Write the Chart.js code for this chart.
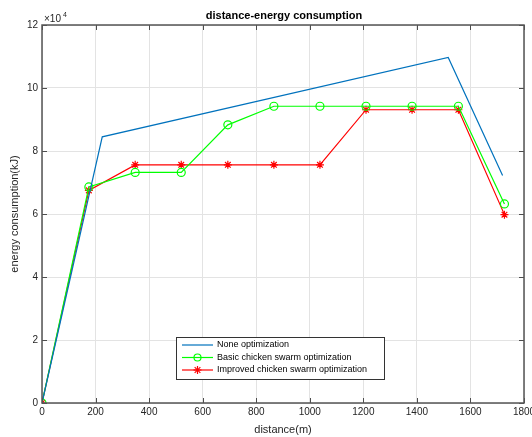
<!DOCTYPE html>
<html lang="en">
<head>
    <meta charset="UTF-8">
    <title>distance-energy consumption</title>
    <script src="https://cdn.jsdelivr.net/npm/chart.js"></script>
    <style>
        html, body { margin: 0; padding: 0; background: #fff; }
        #chartBox { width: 532px; height: 437px; }
    </style>
</head>
<body>
    <div id="chartBox"><canvas id="energyChart" width="532" height="437"></canvas></div>

    <script>
        // data (distance in m, energy in kJ)
        const noneX = [0, 225, 1517, 1720];
        const noneY = [0, 84500, 109700, 72200];

        const distances = [0, 175, 348, 520, 694, 866, 1038, 1210, 1382, 1555, 1727];
        const basicY = [0, 68600, 73200, 73200, 88300, 94200, 94200, 94200, 94200, 94200, 63200];
        const improvedY = [0, 67500, 75600, 75600, 75600, 75600, 75600, 93100, 93100, 93100, 59800];

        const seriesNames = ['None optimization', 'Basic chicken swarm optimization', 'Improved chicken swarm optimization'];
        const xTicks = [0, 200, 400, 600, 800, 1000, 1200, 1400, 1600, 1800];
        const yTicks = [0, 20000, 40000, 60000, 80000, 100000, 120000];

        function toPoints(xs, ys) {
            return xs.map((x, i) => ({ x: x, y: ys[i] }));
        }

        const font = 'Liberation Sans, Arial, sans-serif';

        // MATLAB-ish box, inward ticks, title, exponent and legend
        const matlabFrame = {
            id: 'matlabFrame',
            afterDraw(chart) {
                const ctx = chart.ctx;
                const a = chart.chartArea;
                const xs = chart.scales.x, ys = chart.scales.y;
                ctx.save();
                ctx.strokeStyle = '#4d4d4d';
                ctx.lineWidth = 1;
                xTicks.forEach(v => {
                    const px = Math.round(xs.getPixelForValue(v)) + 0.5;
                    ctx.beginPath();
                    ctx.moveTo(px, a.bottom); ctx.lineTo(px, a.bottom - 5);
                    ctx.moveTo(px, a.top); ctx.lineTo(px, a.top + 5);
                    ctx.stroke();
                });
                yTicks.forEach(v => {
                    const py = Math.round(ys.getPixelForValue(v)) + 0.5;
                    ctx.beginPath();
                    ctx.moveTo(a.left, py); ctx.lineTo(a.left + 5, py);
                    ctx.moveTo(a.right, py); ctx.lineTo(a.right - 5, py);
                    ctx.stroke();
                });
                ctx.strokeStyle = '#555';
                ctx.lineWidth = 1.5;
                ctx.strokeRect(a.left, a.top, a.right - a.left, a.bottom - a.top);

                // title
                ctx.fillStyle = '#000';
                ctx.font = 'bold 11px ' + font;
                ctx.textAlign = 'center';
                ctx.textBaseline = 'alphabetic';
                ctx.fillText('distance-energy consumption', (a.left + a.right) / 2 + 1, 19);

                // exponent
                ctx.fillStyle = '#262626';
                ctx.textAlign = 'left';
                ctx.font = '10px ' + font;
                ctx.fillText('\u00d710', a.left + 2, a.top - 3);
                ctx.font = '7px ' + font;
                ctx.fillText('4', a.left + 21, a.top - 8);

                // legend
                const lx = 176, ly = 337, lw = 208, lh = 42;
                ctx.fillStyle = '#fff';
                ctx.fillRect(lx, ly, lw, lh);
                ctx.strokeStyle = '#333';
                ctx.lineWidth = 1;
                ctx.strokeRect(lx + 0.5, ly + 0.5, lw, lh);
                ctx.font = '9px ' + font;
                ctx.textBaseline = 'middle';
                chart.data.datasets.forEach((ds, i) => {
                    const y = ly + 8 + i * 12.5;
                    ctx.strokeStyle = ds.borderColor;
                    ctx.lineWidth = ds.borderWidth;
                    ctx.beginPath();
                    ctx.moveTo(lx + 6, y); ctx.lineTo(lx + 37, y);
                    ctx.stroke();
                    if (ds.pointStyle === 'circle') {
                        ctx.beginPath();
                        ctx.arc(lx + 21.5, y, 3.5, 0, Math.PI * 2);
                        ctx.stroke();
                    } else if (ds.pointStyle === 'star') {
                        for (let k = 0; k < 4; k++) {
                            const ang = k * Math.PI / 4;
                            ctx.beginPath();
                            ctx.moveTo(lx + 21.5 - 4 * Math.cos(ang), y - 4 * Math.sin(ang));
                            ctx.lineTo(lx + 21.5 + 4 * Math.cos(ang), y + 4 * Math.sin(ang));
                            ctx.stroke();
                        }
                    }
                    ctx.fillStyle = '#000';
                    ctx.fillText(ds.label, lx + 41, y);
                });
                ctx.restore();
            }
        };

        const ctx = document.getElementById('energyChart').getContext('2d');
        new Chart(ctx, {
            type: 'line',
            data: {
                datasets: [{
                    label: seriesNames[0],
                    data: toPoints(noneX, noneY),
                    borderColor: '#0072BD',
                    borderWidth: 1.2,
                    pointRadius: 0,
                    pointStyle: false,
                    tension: 0
                }, {
                    label: seriesNames[1],
                    data: toPoints(distances, basicY),
                    borderColor: '#00FF00',
                    borderWidth: 1.2,
                    pointStyle: 'circle',
                    pointRadius: 4,
                    pointBorderWidth: 1.2,
                    pointBackgroundColor: 'rgba(0,0,0,0)',
                    tension: 0
                }, {
                    label: seriesNames[2],
                    data: toPoints(distances, improvedY),
                    borderColor: '#FF0000',
                    borderWidth: 1.2,
                    pointStyle: 'star',
                    pointRadius: 4,
                    pointBorderWidth: 1.2,
                    tension: 0
                }]
            },
            options: {
                responsive: false,
                animation: false,
                layout: { padding: { top: 25, right: 0, left: 0, bottom: 0 } },
                plugins: {
                    legend: { display: false },
                    tooltip: { enabled: false }
                },
                scales: {
                    x: {
                        type: 'linear',
                        min: 0,
                        max: 1800,
                        afterBuildTicks: s => { s.ticks = xTicks.map(v => ({ value: v })); },
                        afterFit: s => { s.height = 34; s.paddingRight = 8; s.paddingLeft = 0; },
                        grid: { color: '#e3e3e3', drawTicks: false },
                        border: { display: false },
                        ticks: {
                            color: '#262626',
                            font: { family: font, size: 10 },
                            padding: 3,
                            maxRotation: 0,
                            callback: v => String(v)
                        },
                        title: {
                            display: true,
                            text: 'distance(m)',
                            color: '#262626',
                            font: { family: font, size: 11 },
                            padding: { top: 1, bottom: 0 }
                        }
                    },
                    y: {
                        min: 0,
                        max: 120000,
                        afterBuildTicks: s => { s.ticks = yTicks.map(v => ({ value: v })); },
                        afterFit: s => { s.width = 42; },
                        grid: { color: '#e3e3e3', drawTicks: false },
                        border: { display: false },
                        ticks: {
                            color: '#262626',
                            font: { family: font, size: 10 },
                            padding: 4,
                            callback: v => v / 10000
                        },
                        title: {
                            display: true,
                            text: 'energy consumption(kJ)',
                            color: '#262626',
                            font: { family: font, size: 11 },
                            padding: { top: 8, bottom: 0 }
                        }
                    }
                }
            },
            plugins: [matlabFrame]
        });
    </script>
</body>
</html>
